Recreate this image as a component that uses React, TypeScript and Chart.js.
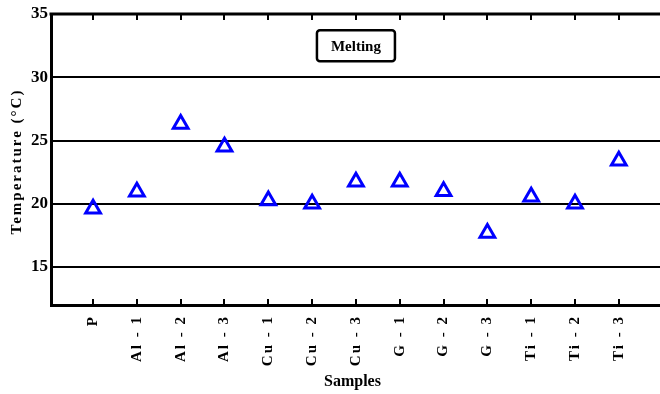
import React, { useEffect, useRef } from "react";
import { Chart, registerables } from "chart.js";

Chart.register(...registerables);

const categories = ["P", "Al - 1", "Al - 2", "Al - 3", "Cu - 1", "Cu - 2", "Cu - 3", "G - 1", "G - 2", "G - 3", "Ti - 1", "Ti - 2", "Ti - 3"];
const meltingTemps = [19.6, 20.95, 26.3, 24.5, 20.25, 20.0, 21.75, 21.75, 21.0, 17.7, 20.55, 20.0, 23.4];
const yTicks = [15, 20, 25, 30, 35];
const annotationText = "Melting";
const xTitle = "Samples";
const yTitle = "Temperature (°C)";

const FONT = "'Liberation Serif', 'Times New Roman', serif";

const spacingPlugin = {
  id: "spacing",
  beforeDraw(chart: any) {
    (chart.ctx as any).letterSpacing = "0px";
  },
  afterDatasetsDraw(chart: any) {
    (chart.ctx as any).letterSpacing = "2px";
  },
};

const framePlugin = {
  id: "frame",
  afterDraw(chart: any) {
    const { ctx, chartArea, scales } = chart;
    const xs = scales.x;
    const ys = scales.y;
    ctx.save();
    (ctx as any).letterSpacing = "0px";
    ctx.strokeStyle = "#000";
    ctx.lineCap = "butt";
    // top border
    ctx.lineWidth = 3;
    ctx.beginPath();
    ctx.moveTo(chartArea.left - 1.5, chartArea.top);
    ctx.lineTo(chartArea.right, chartArea.top);
    ctx.stroke();
    // inward ticks
    ctx.lineWidth = 2;
    categories.forEach((_, i) => {
      const px = Math.round(xs.getPixelForValue(i));
      ctx.beginPath();
      ctx.moveTo(px, chartArea.top);
      ctx.lineTo(px, chartArea.top + 6);
      ctx.moveTo(px, chartArea.bottom);
      ctx.lineTo(px, chartArea.bottom - 6);
      ctx.stroke();
    });
    // annotation box
    const cx = xs.getPixelForValue(6);
    const cy = ys.getPixelForValue(32.5);
    const w = 78;
    const h = 31;
    ctx.lineWidth = 2.5;
    ctx.beginPath();
    if (ctx.roundRect) ctx.roundRect(cx - w / 2, cy - h / 2, w, h, 3);
    else ctx.rect(cx - w / 2, cy - h / 2, w, h);
    ctx.stroke();
    ctx.fillStyle = "#000";
    ctx.font = `bold 15px ${FONT}`;
    ctx.textAlign = "center";
    ctx.textBaseline = "middle";
    ctx.fillText(annotationText, cx, cy + 1);
    // x title
    ctx.font = `bold 16px ${FONT}`;
    ctx.fillText(xTitle, (chartArea.left + chartArea.right) / 2 - 3, 382);
    // y title
    ctx.save();
    ctx.translate(17, (chartArea.top + chartArea.bottom) / 2 + 3);
    ctx.rotate(-Math.PI / 2);
    (ctx as any).letterSpacing = "2px";
    ctx.font = `bold 15px ${FONT}`;
    ctx.fillText(yTitle, 1, 0);
    ctx.restore();
    ctx.restore();
  },
};

export default function App() {
  const ref = useRef<HTMLCanvasElement | null>(null);
  useEffect(() => {
    document.body.style.margin = "0";
    const canvas = ref.current;
    if (!canvas) return;
    const chart = new Chart(canvas, {
      type: "scatter",
      data: {
        datasets: [
          {
            data: meltingTemps.map((v, i) => ({ x: i, y: v })),
            pointStyle: "triangle",
            pointRadius: 8.5,
            pointHoverRadius: 8.5,
            borderColor: "#0000ff",
            backgroundColor: "rgba(0,0,0,0)",
            pointBorderWidth: 3,
            showLine: false,
          },
        ],
      },
      options: {
        responsive: false,
        animation: false,
        maintainAspectRatio: false,
        layout: { autoPadding: false, padding: { top: 14, right: 0, left: 0, bottom: 0 } },
        plugins: { legend: { display: false }, tooltip: { enabled: false } },
        scales: {
          x: {
            type: "linear",
            min: -0.96,
            max: 12.94,
            afterBuildTicks: (scale: any) => {
              scale.ticks = categories.map((_, i) => ({ value: i }));
            },
            afterFit: (scale: any) => {
              scale.height = 89;
              scale.paddingLeft = 0;
              scale.paddingRight = 0;
            },
            grid: { display: false, drawTicks: false },
            border: { display: true, color: "#000", width: 3 },
            ticks: {
              z: 1,
              autoSkip: false,
              minRotation: 90,
              maxRotation: 90,
              padding: 10,
              color: "#000",
              font: { family: FONT, size: 15, weight: "bold" },
              callback: (v: any) => categories[Math.round(Number(v))] ?? "",
            },
            title: { display: false },
          },
          y: {
            min: 12,
            max: 35,
            afterBuildTicks: (scale: any) => {
              scale.ticks = yTicks.map((v) => ({ value: v }));
            },
            afterFit: (scale: any) => {
              scale.width = 51;
              scale.paddingTop = 0;
              scale.paddingBottom = 0;
            },
            grid: { display: true, color: "#000", lineWidth: 2, drawTicks: false },
            border: { display: true, color: "#000", width: 3 },
            ticks: {
              padding: 3,
              color: "#000",
              font: { family: FONT, size: 17, weight: "bold" },
            },
            title: { display: false },
          },
        },
      },
      plugins: [spacingPlugin, framePlugin],
    } as any);
    return () => chart.destroy();
  }, []);
  return (
    <div style={{ width: 660, height: 394 }}>
      <canvas ref={ref} width={660} height={394} style={{ display: "block" }} />
    </div>
  );
}
